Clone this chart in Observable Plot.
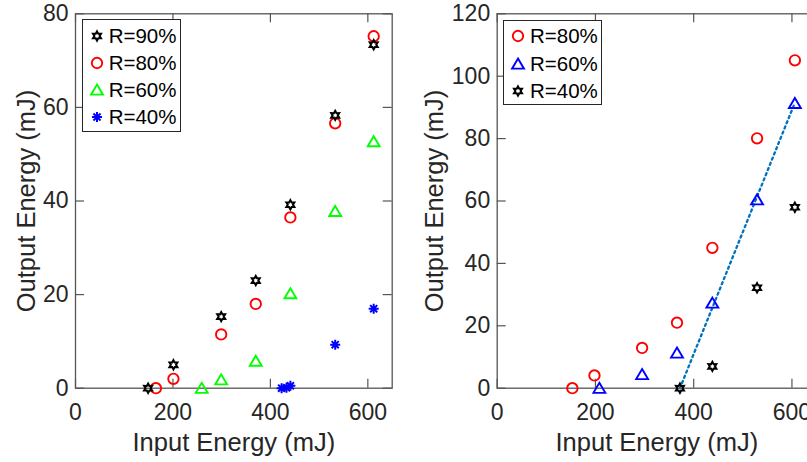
<!DOCTYPE html>
<html><head><meta charset="utf-8">
<script src="https://cdn.jsdelivr.net/npm/d3@7"></script>
<script src="https://cdn.jsdelivr.net/npm/@observablehq/plot@0.6"></script>
<style>
html,body{margin:0;padding:0;background:#fff;overflow:hidden;}
#wrap{position:relative;width:900px;height:462px;font-family:"Liberation Sans",Arial,Helvetica,sans-serif;}
.panel{position:absolute;top:0;}
.legend{position:absolute;background:#fff;border:1px solid #262626;box-sizing:border-box;font-size:20.5px;color:#000;}
.legend .row{position:absolute;height:26px;display:flex;align-items:center;white-space:nowrap;}
.legend svg{display:block;}
</style></head>
<body><div id="wrap"></div>
<script>
// ---------- data ----------
const xTicks = [0, 200, 400, 600];
const yTicksLeft = [0, 20, 40, 60, 80];
const yTicksRight = [0, 20, 40, 60, 80, 100, 120];
const xLabel = "Input Energy (mJ)";
const yLabel = "Output Energy (mJ)";

// left panel
const leftR90x = [149, 201, 299, 370, 441, 533, 612];
const leftR90y = [0, 5.0, 15.3, 23.0, 39.2, 58.3, 73.4];
const leftR80x = [165, 201, 299, 370, 441, 533, 612];
const leftR80y = [0, 2.0, 11.5, 18.0, 36.5, 56.6, 75.2];
const leftR60x = [259, 299, 370, 441, 533, 612];
const leftR60y = [0, 1.8, 5.8, 20.2, 37.8, 52.7];
const leftR40x = [423, 433, 441, 533, 612];
const leftR40y = [0, 0.1, 0.5, 9.3, 17.0];

// right panel
const rightR80x = [153, 198, 295, 366, 438, 529, 606];
const rightR80y = [0, 4.1, 12.9, 21.0, 45.0, 80.1, 105.1];
const rightR60x = [208, 295, 366, 438, 529, 606];
const rightR60y = [0, 4.4, 11.3, 27.3, 60.4, 91.3];
const rightR40x = [372, 438, 529, 606];
const rightR40y = [0, 7.0, 32.2, 58.0];
const fitX = [372, 606];
const fitY = [0, 91.5];

const legendLeft = ["R=90%", "R=80%", "R=60%", "R=40%"];
const legendRight = ["R=80%", "R=60%", "R=40%"];

// ---------- symbols ----------
const hexagram = {draw(ctx, size) {
  const R = Math.sqrt(size / Math.PI), r = R * 0.56;
  for (let i = 0; i < 12; i++) {
    const a = i * Math.PI / 6 - Math.PI / 2, rad = i % 2 ? r : R;
    const px = rad * Math.cos(a), py = rad * Math.sin(a);
    i ? ctx.lineTo(px, py) : ctx.moveTo(px, py);
  }
  ctx.closePath();
}};
const asterisk8 = {draw(ctx, size) {
  const R = Math.sqrt(size / Math.PI);
  for (let k = 0; k < 4; k++) {
    const a = k * Math.PI / 4;
    ctx.moveTo(R * Math.cos(a), R * Math.sin(a));
    ctx.lineTo(-R * Math.cos(a), -R * Math.sin(a));
  }
}};
const triUp = {draw(ctx, size) {
  const R = Math.sqrt(size / Math.PI);
  ctx.moveTo(0, -R);
  ctx.lineTo(R * 1.1, R * 0.86);
  ctx.lineTo(-R * 1.1, R * 0.86);
  ctx.closePath();
}};
const circ = {draw(ctx, size) {
  const R = Math.sqrt(size / Math.PI);
  ctx.moveTo(R, 0); ctx.arc(0, 0, R, 0, 2 * Math.PI);
}};

const styles = {
  black: {symbol: hexagram, r: 4.6, stroke: "#000", strokeWidth: 2, fill: "none"},
  red: {symbol: circ, r: 5.2, stroke: "#ff0000", strokeWidth: 1.9, fill: "none"},
  green: {symbol: triUp, r: 5.4, stroke: "#00ff00", strokeWidth: 1.9, fill: "none"},
  blue: {symbol: asterisk8, r: 5, stroke: "#0000ff", strokeWidth: 2, fill: "none"},
  blueTri: {symbol: triUp, r: 5.4, stroke: "#0000ff", strokeWidth: 1.9, fill: "none"}
};

const zip = (xs, ys) => xs.map((x, i) => ({x, y: ys[i]}));

const H = 462, mTop = 13.3, mBottom = 74.3;
const frameH = H - mTop - mBottom;
const axisColor = "#262626", lineColor = "#555";

function panel({width, mLeft, mRight, yDomain, yTicks, series, extra = [], yLabelDx}) {
  const frameW = width - mLeft - mRight;
  const tickLen = 9;
  return Plot.plot({
    width, height: H,
    marginLeft: mLeft, marginRight: mRight, marginTop: mTop, marginBottom: mBottom,
    style: {fontFamily: '"Liberation Sans", Arial, Helvetica, sans-serif', color: axisColor, background: "#fff", overflow: "visible"},
    x: {domain: [0, 650]},
    y: {domain: yDomain},
    marks: [
      Plot.axisX({ticks: xTicks, tickSize: 0, tickPadding: 15, fontSize: 23, label: null, color: axisColor}),
      Plot.axisY({ticks: yTicks, tickSize: 0, tickPadding: 7, fontSize: 23, label: null, color: axisColor}),
      Plot.ruleX(xTicks, {x: d => d, insetTop: frameH - tickLen, stroke: lineColor, strokeWidth: 1.2}),
      Plot.ruleX(xTicks, {x: d => d, insetBottom: frameH - tickLen, stroke: lineColor, strokeWidth: 1.2}),
      Plot.ruleY(yTicks, {y: d => d, insetRight: frameW - tickLen, stroke: lineColor, strokeWidth: 1.2}),
      Plot.ruleY(yTicks, {y: d => d, insetLeft: frameW - tickLen, stroke: lineColor, strokeWidth: 1.2}),
      Plot.frame({stroke: lineColor, strokeWidth: 1.3}),
      ...extra,
      ...series.map(([data, st]) => Plot.dot(data, {x: "x", y: "y", ...st})),
      Plot.text([xLabel], {text: d => d, frameAnchor: "bottom", lineAnchor: "middle", textAnchor: "middle", dy: 55, fontSize: 25.5, fill: axisColor}),
      Plot.text([yLabel], {text: d => d, frameAnchor: "left", lineAnchor: "middle", textAnchor: "middle", rotate: -90, dx: yLabelDx, fontSize: 25.5, fill: axisColor})
    ]
  });
}

const wrap = document.getElementById("wrap");

const left = panel({
  width: 420, mLeft: 75, mRight: 28.3, yDomain: [0, 80], yTicks: yTicksLeft, yLabelDx: -49,
  series: [
    [zip(leftR40x, leftR40y), styles.blue],
    [zip(leftR60x, leftR60y), styles.green],
    [zip(leftR80x, leftR80y), styles.red],
    [zip(leftR90x, leftR90y), styles.black]
  ]
});
left.classList.add("panel"); left.style.left = "0px";
wrap.appendChild(left);

const right = panel({
  width: 480, mLeft: 76.7, mRight: 84, yDomain: [0, 120], yTicks: yTicksRight, yLabelDx: -62,
  extra: [Plot.line(zip(fitX, fitY), {x: "x", y: "y", stroke: "#0072BD", strokeWidth: 2.3, strokeDasharray: "2.2,3.4"})],
  series: [
    [zip(rightR40x, rightR40y), styles.black],
    [zip(rightR60x, rightR60y), styles.blueTri],
    [zip(rightR80x, rightR80y), styles.red]
  ]
});
right.classList.add("panel"); right.style.left = "420px";
wrap.appendChild(right);

// ---------- legends ----------
function legend({left, top, width, height, labels, syms, rowYs, symX, textX}) {
  const box = document.createElement("div");
  box.className = "legend";
  Object.assign(box.style, {left: left + "px", top: top + "px", width: width + "px", height: height + "px"});
  labels.forEach((lab, i) => {
    const st = syms[i];
    const row = document.createElement("div");
    row.className = "row";
    row.style.top = (rowYs[i] - 13) + "px";
    row.style.left = (symX - 8) + "px";
    const svg = d3.create("svg").attr("width", 16).attr("height", 16);
    svg.append("path")
      .attr("transform", "translate(8,8)")
      .attr("d", d3.symbol().type(st.symbol).size(Math.PI * st.r * st.r)())
      .attr("fill", "none").attr("stroke", st.stroke).attr("stroke-width", st.strokeWidth);
    row.appendChild(svg.node());
    const span = document.createElement("span");
    span.textContent = lab;
    span.style.marginLeft = (textX - symX - 8) + "px";
    row.appendChild(span);
    box.appendChild(row);
  });
  wrap.appendChild(box);
}

legend({left: 81.7, top: 19.3, width: 99, height: 112.4, labels: legendLeft,
  syms: [styles.black, styles.red, styles.green, styles.blue],
  rowYs: [15.7, 42.4, 69.7, 97.0], symX: 14.3, textX: 26});
legend({left: 503.3, top: 20, width: 99, height: 84.5, labels: legendRight,
  syms: [styles.red, styles.blueTri, styles.black],
  rowYs: [15, 42.7, 70], symX: 13.4, textX: 25.7});
</script>
</body></html>
